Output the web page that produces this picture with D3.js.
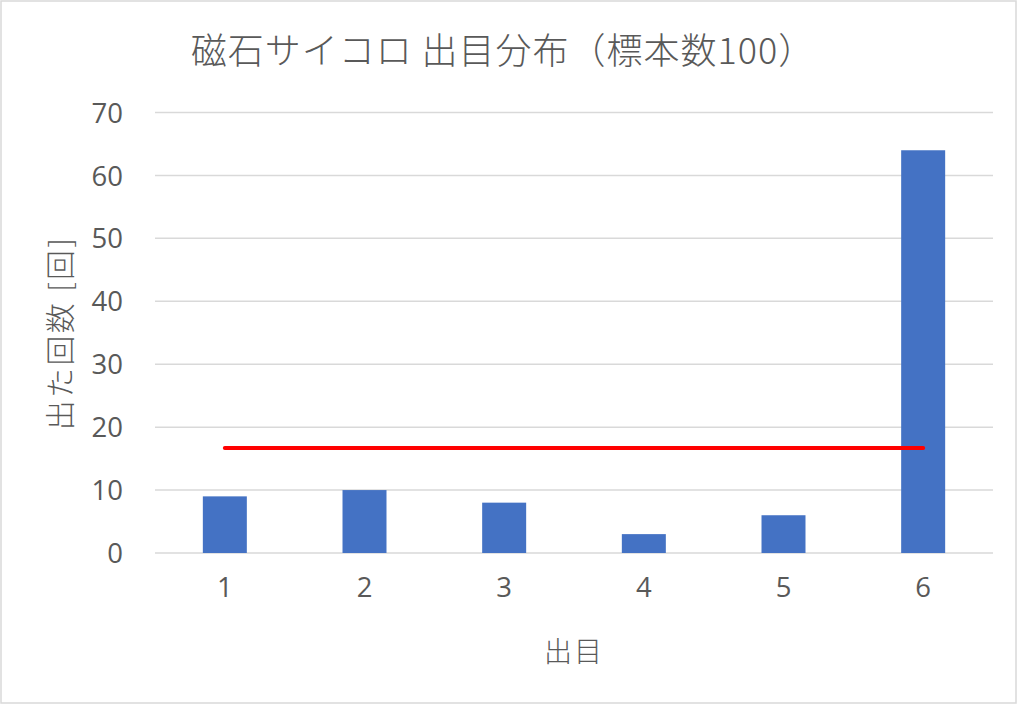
<!DOCTYPE html>
<html lang="ja">
<head>
<meta charset="utf-8">
<script src="https://cdn.jsdelivr.net/npm/d3@7/dist/d3.min.js"></script>
<style>
  html, body { margin: 0; padding: 0; background: #fff; }
  svg { display: block; }
  text { fill: #595959; }
</style>
</head>
<body>
<svg id="chart" width="1018" height="705"></svg>
<script>
// Die faces and how often each came up in 100 rolls
const faces = ["1", "2", "3", "4", "5", "6"];
const counts = [9, 10, 8, 3, 6, 64];
// Expected count per face for a fair die (100 / 6)
const expectedLine = [{ face: "1", value: 16.67 }, { face: "6", value: 16.67 }];
const yTicks = [0, 10, 20, 30, 40, 50, 60, 70];

const titleText = "磁石サイコロ 出目分布（標本数100）";
const yTitle = "出た回数 [回]";
const xTitle = "出目";

const numFont = "'Open Sans', 'Noto Sans CJK JP', sans-serif";
const jpFont = "'Noto Sans CJK JP', 'Open Sans', sans-serif";

const svg = d3.select("#chart");
const W = 1018, H = 705;
const plot = { left: 155, right: 993, top: 112.5, bottom: 553 };

// outer frame
svg.append("rect")
  .attr("x", 1).attr("y", 1)
  .attr("width", W - 3).attr("height", H - 3)
  .attr("fill", "#fff")
  .attr("stroke", "#d9d9d9")
  .attr("stroke-width", 1.5);

const x = d3.scaleBand()
  .domain(faces)
  .range([plot.left, plot.right])
  .paddingInner(0.685)
  .paddingOuter(0.3425);

const y = d3.scaleLinear()
  .domain([0, 70])
  .range([plot.bottom, plot.top]);

// horizontal gridlines
svg.append("g")
  .selectAll("line")
  .data(yTicks)
  .join("line")
  .attr("x1", plot.left).attr("x2", plot.right)
  .attr("y1", d => y(d)).attr("y2", d => y(d))
  .attr("stroke", "#d9d9d9")
  .attr("stroke-width", 1.5);

// y axis tick labels
const yAxis = d3.axisLeft(y).tickValues(yTicks).tickSize(0).tickPadding(0);
const gy = svg.append("g")
  .attr("transform", `translate(${plot.left - 32},0)`)
  .call(yAxis);
gy.select(".domain").remove();
gy.selectAll("text")
  .attr("font-family", numFont)
  .attr("font-size", 27.5)
  .attr("fill", "#595959")
  .attr("dy", "0.35em");

// x axis tick labels
const xAxis = d3.axisBottom(x).tickSize(0).tickPadding(0);
const gx = svg.append("g")
  .attr("transform", `translate(0,${plot.bottom + 24})`)
  .call(xAxis);
gx.select(".domain").remove();
gx.selectAll("text")
  .attr("font-family", numFont)
  .attr("font-size", 27.5)
  .attr("fill", "#595959")
  .attr("dy", "0.72em");

// bars
svg.append("g")
  .selectAll("rect")
  .data(faces.map((f, i) => ({ face: f, value: counts[i] })))
  .join("rect")
  .attr("x", d => x(d.face))
  .attr("width", x.bandwidth())
  .attr("y", d => y(d.value))
  .attr("height", d => y(0) - y(d.value))
  .attr("fill", "#4472C4");

// expected-value reference line
const line = d3.line()
  .x(d => x(d.face) + x.bandwidth() / 2)
  .y(d => y(d.value));
svg.append("path")
  .datum(expectedLine)
  .attr("d", line)
  .attr("fill", "none")
  .attr("stroke", "#FF0000")
  .attr("stroke-width", 4)
  .attr("stroke-linecap", "round");

// chart title
svg.append("text")
  .attr("x", 503).attr("y", 48)
  .attr("text-anchor", "middle")
  .attr("dominant-baseline", "central")
  .attr("font-family", jpFont)
  .attr("font-weight", 300)
  .attr("font-size", 36)
  .attr("letter-spacing", 1)
  .text(titleText);

// axis titles
svg.append("text")
  .attr("transform", `translate(58,333) rotate(-90)`)
  .attr("text-anchor", "middle")
  .attr("dominant-baseline", "central")
  .attr("font-family", jpFont)
  .attr("font-weight", 300)
  .attr("font-size", 30)
  .attr("letter-spacing", 2.4)
  .text(yTitle);

svg.append("text")
  .attr("x", 574).attr("y", 650)
  .attr("text-anchor", "middle")
  .attr("dominant-baseline", "central")
  .attr("font-family", jpFont)
  .attr("font-weight", 300)
  .attr("font-size", 28)
  .attr("letter-spacing", 2)
  .text(xTitle);
</script>
</body>
</html>
